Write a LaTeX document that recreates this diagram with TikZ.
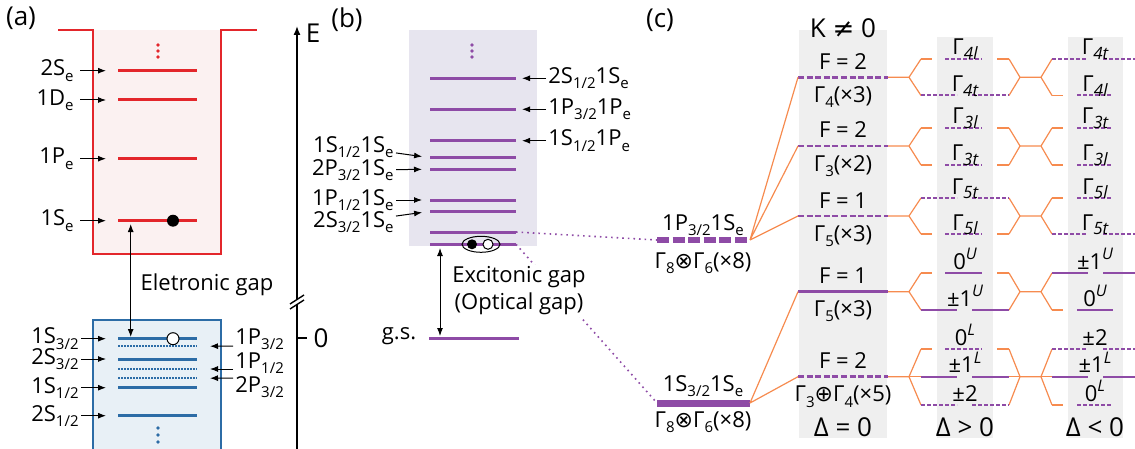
\documentclass[tikz,border=0pt]{standalone}
\usepackage{fontspec}
\setmainfont{Open Sans}
\newfontfamily\symf{DejaVu Sans}
\usetikzlibrary{arrows.meta,calc}
\definecolor{well}{HTML}{E3262B}
\definecolor{wellbg}{HTML}{FBF1F1}
\definecolor{hole}{HTML}{2C6CA6}
\definecolor{holebg}{HTML}{E8F0F6}
\definecolor{pair}{HTML}{8E4BA6}
\definecolor{pairbg}{HTML}{E7E5EF}
\definecolor{fan}{HTML}{F68B4F}
\definecolor{colbg}{HTML}{EFEFEF}
\newcommand\subt[1]{\raisebox{-.45ex}{\fontsize{7.5}{8}\selectfont #1}}
\newcommand\supt[1]{\raisebox{.8ex}{\fontsize{8}{9}\selectfont\itshape #1}}
\newcommand\gam[1]{Γ\subt{#1}}
\newcommand\gl[1]{Γ\raisebox{-.4ex}{\fontsize{8.5}{9}\selectfont\itshape #1}}
\tikzset{lvl/.style={line width=1.5pt},
ptr/.style={-{Latex[length=4pt,width=3pt]},line width=.5pt},
gap/.style={{Latex[length=4pt,width=3pt]}-{Latex[length=4pt,width=3pt]},line width=.5pt},
axis/.style={line width=.7pt},
lab/.style={font=\fontsize{11}{13}\selectfont,inner sep=1pt},
big/.style={font=\fontsize{13}{15}\selectfont,inner sep=1pt},
sub/.style={pair,line width=1pt},
dsh/.style={dash pattern=on 2pt off 1pt},
kdsh/.style={dash pattern=on 3pt off 1.3pt},
fan/.style={draw=fan,line width=.6pt},
link/.style={pair,line width=.8pt,dash pattern=on .8pt off 2pt}}
\begin{document}
\begin{tikzpicture}[x=0.5pt,y=-0.5pt]
\useasboundingbox (0,0) rectangle (1135,449);
\node[big] (pa) at (21,18) {(a)};
\fill[wellbg] (93,30) rectangle (221,254);
\draw[well,line width=1pt] (58,30) -- (93,30) -- (93,254) -- (221,254) -- (221,30) -- (257,30);
\foreach \y in {45,51,57} \fill[well] (158,\y) circle (0.9pt);
\foreach \y/\t [count=\i] in {70.7/2S\subt{e},100/1D\subt{e},158.7/1P\subt{e},220.7/1S\subt{e}}{
\draw[lvl,well] (118,\y) coordinate (e\i) -- (197,\y);
\node[lab,anchor=east] (le\i) at (76,\y) {\t};
\draw[ptr,shorten >=6pt,shorten <=2pt] (le\i) -- (e\i);}
\fill (173,220.7) circle (3pt);
\fill[holebg] (93,320) rectangle (221,460);
\draw[hole,line width=1pt] (93,460) -- (93,320) -- (221,320) -- (221,460);
\foreach \y/\t [count=\i] in {338.7/{1S\subt{3/2}},359/{2S\subt{3/2}},387.7/{1S\subt{1/2}},415.7/{2S\subt{1/2}}}{
\draw[lvl,hole] (118,\y) coordinate (h\i) -- (197,\y);
\node[lab,anchor=east] (lh\i) at (81,\y) {\t};
\draw[ptr,shorten >=6pt] (lh\i) -- (h\i);}
\foreach \y [count=\i] in {346.3,369,378.3}
\draw[hole,line width=1pt,dash pattern=on .9pt off .6pt] (118,\y) -- (197,\y) coordinate (hp\i);
\foreach \y/\t/\s [count=\i] in {339/{1P\subt{3/2}}/7,363/{1P\subt{1/2}}/6,387/{2P\subt{3/2}}/-9}{
\node[lab,anchor=west] (lp\i) at (233,\y) {\t};
\draw[ptr,shorten >=6.5pt] ($(lp\i.west)+(0,\s)$) -- (hp\i);}
\draw[fill=white,line width=.5pt] (173,338.7) circle (3pt);
\foreach \y in {428,435,442} \fill[hole] (158,\y) circle (0.9pt);
\coordinate (eg1) at (130.7,224);
\coordinate (eg2) at (130.7,337);
\draw[gap] (eg1) -- (eg2);
\node[lab] (egap) at (207,285) {Eletronic gap};
\draw[axis] (297,460) -- (297,304.5);
\draw[axis,-{Latex[length=4.5pt,width=3.5pt]}] (297,299.5) -- (297,26);
\draw[axis] (290,304) -- (304,295) (290,309) -- (304,300);
\draw[axis] (297,338) -- (307,338);
\node[big] (zero) at (321,338) {0};
\node[big] (en) at (313,33) {E};
\node[big] (pb) at (347,20) {(b)};
\fill[pairbg] (409,30) rectangle (537,246);
\foreach \y in {45,51,57} \fill[pair] (472,\y) circle (0.9pt);
\foreach \y [count=\i] in {78.3,109.3,140.7,157.7,169.3,200,211.3,232,244.3}
\draw[lvl,pair] (430,\y) coordinate (x\i) -- (516,\y) coordinate (xr\i);
\foreach \i/\t in {1/{2S\subt{1/2}1S\subt{e}},2/{1P\subt{3/2}1P\subt{e}},3/{1S\subt{1/2}1P\subt{e}}}{
\node[lab,anchor=west] (rb\i) at ($(xr\i)+(30,0)$) {\t};
\draw[ptr,shorten >=3pt] (rb\i) -- (xr\i);}
\foreach \y/\t/\j [count=\i] in {147/{1S\subt{1/2}1S\subt{e}}/4,170/{2P\subt{3/2}1S\subt{e}}/5,200/{1P\subt{1/2}1S\subt{e}}/6,222/{2S\subt{3/2}1S\subt{e}}/7}{
\node[lab,anchor=east] (lb\i) at (396,\y) {\t};
\draw[ptr,shorten >=4pt] (lb\i) -- (x\j);}
\draw[line width=.5pt] (481,244.3) ellipse [x radius=9.5pt,y radius=4pt];
\fill (472,244.3) circle (2.5pt);
\draw[fill=white,line width=.5pt] (488,244.3) circle (2.5pt);
\draw[lvl,pair] (429,338.3) coordinate (gs) -- (519,338.3);
\node[lab] (lgs) at (399,336) {g.s.};
\coordinate (xg1) at (440,248);
\coordinate (xg2) at (440,336);
\draw[gap] (xg1) -- (xg2);
\coordinate (p1l) at (657,240);
\coordinate (s1l) at (657,403);
\draw[link] (xr8) -- (p1l);
\draw[link] (xr9) -- (s1l);
\node[lab,fill=white,align=center,font=\fontsize{11}{13.5}\selectfont] (xgap) at (519,291) {Excitonic gap\\(Optical gap)};
\node[big] (pc) at (660,20) {(c)};
\fill[colbg] (799,30) rectangle (887,438);
\fill[colbg] (937,37) rectangle (993,438);
\fill[colbg] (1068,37) rectangle (1123,438);
\node[big,anchor=base] (knz) at (843,38) {K {\symf ≠} 0};
\draw[pair,line width=3pt,dash pattern=on 6pt off 1.8pt] (p1l) -- (750,240) coordinate (p1r);
\draw[pair,line width=3.5pt] (s1l) -- (750,403) coordinate (s1r);
\node[lab,anchor=base] (p1t) at (703,230) {1P\subt{3/2}1S\subt{e}};
\node[lab,anchor=base] (p1b) at (703,268) {\gam{8}{\symf ⊗}\gam{6}(×8)};
\node[lab,anchor=base] (s1t) at (703,391) {1S\subt{3/2}1S\subt{e}};
\node[lab,anchor=base] (s1b) at (703,427) {\gam{8}{\symf ⊗}\gam{6}(×8)};
\foreach \y/\f/\g/\s [count=\i] in {77.3/2/{\gam{4}(×3)}/kdsh,146/2/{\gam{3}(×2)}/kdsh,216/1/{\gam{5}(×3)}/kdsh,291.7/1/{\gam{5}(×3)}/solid,376.7/2/{\gam{3}{\symf ⊕}\gam{4}(×5)}/kdsh}{
\draw[pair,line width=1.3pt,\s] (798,\y) coordinate (k\i) -- (888,\y) coordinate (kr\i);
\node[lab,anchor=base] (f\i) at (843,{\y-8}) {F = \f};
\node[lab,anchor=base] (gk\i) at (843,{\y+25}) {\g};}
\draw[fan] (p1r) -- (k1) (p1r) -- (k2) (p1r) -- (k3) (s1r) -- (k4) (s1r) -- (k5);
\foreach \y/\u/\d [count=\i] in {77.3/59/95.5,146/128/165,216/198/234,291.7/273/310,376.7/349/405}
\draw[fan] (kr\i) -- (909,\y) (921,\u) -- (909,\y) -- (921,\d) (1009,\u) -- (1020,\y) -- (1009,\d)
(1020,\y) -- (1041,\y) (1052,\u) -- (1041,\y) -- (1052,\d);
\draw[fan] (909,376.7) -- (921,376.7) (1009,376.7) -- (1020,376.7) (1041,376.7) -- (1052,376.7);
\foreach \y/\s in {59/dsh,128/dsh,165/dsh,234/dsh,273/solid,349/dsh}{
\draw[fan] (921,\y) -- (932,\y) (997,\y) -- (1009,\y);
\draw[sub,\s] (945,\y) -- (982,\y);}
\foreach \y/\s in {95.5/dsh,198/dsh,310/solid,376.7/solid,405/dsh}
\draw[sub,\s] (921,\y) -- (957,\y) (972,\y) -- (1009,\y);
\foreach \y/\s in {95.5/dsh,128/dsh,165/dsh,198/dsh,310/solid,405/dsh}{
\draw[fan] (1052,\y) -- (1063,\y);
\draw[sub,\s] (1077,\y) -- (1113,\y);}
\foreach \y/\s in {59/dsh,234/dsh,273/solid,349/dsh,376.7/solid}
\draw[sub,\s] (1052,\y) -- (1088,\y) (1103,\y) -- (1140,\y);
\foreach \y/\t [count=\i] in {59/{\gl{4l}},95.5/{\gl{4t}},128/{\gl{3l}},165/{\gl{3t}},198/{\gl{5t}},234/{\gl{5l}},273/{0\supt{U}},310/{±1\supt{U}},349/{0\supt{L}},376.7/{±1\supt{L}},405/{±2}}
\node[lab,anchor=base] (dp\i) at (965,{\y-4}) {\t};
\foreach \y/\t [count=\i] in {59/{\gl{4t}},95.5/{\gl{4l}},128/{\gl{3t}},165/{\gl{3l}},198/{\gl{5l}},234/{\gl{5t}},273/{±1\supt{U}},310/{0\supt{U}},349/{±2},376.7/{±1\supt{L}},405/{0\supt{L}}}
\node[lab,anchor=base] (dn\i) at (1095,{\y-4}) {\t};
\node[big,anchor=base] (d0) at (843,436) {Δ = 0};
\node[big,anchor=base] (d1) at (965,436) {Δ > 0};
\node[big,anchor=base] (d2) at (1095,436) {Δ < 0};
\end{tikzpicture}
\end{document}
